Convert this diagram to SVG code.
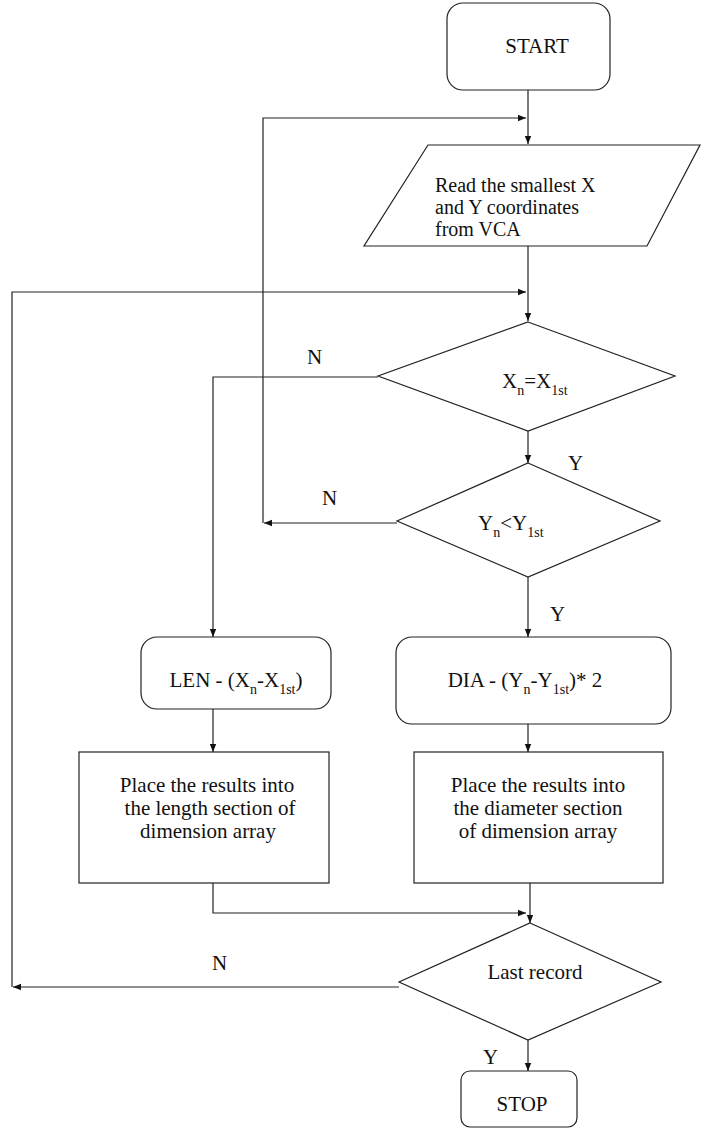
<svg xmlns="http://www.w3.org/2000/svg" width="701" height="1128" viewBox="0 0 701 1128">
<defs>
<style>
.n{fill:#fff;stroke:#222;stroke-width:1.2}
.c{fill:none;stroke:#222;stroke-width:1.2}
text{font-family:"Liberation Serif","Times New Roman",serif;font-size:21px;fill:#111}
.s{font-size:14px}
.p{font-size:20px}
</style>
<marker id="a" viewBox="0 0 10 10" refX="10" refY="5" markerWidth="8" markerHeight="8" markerUnits="userSpaceOnUse" orient="auto">
<path d="M0,1 L10,5 L0,9 z" fill="#111"/>
</marker>
</defs>
<rect width="701" height="1128" fill="#fff"/>
<g id="connectors">
<path class="c" d="M528,90 V144" marker-end="url(#a)"/>
<path class="c" d="M263,523 V118 H526" marker-end="url(#a)"/>
<path class="c" d="M528,246 V321" marker-end="url(#a)"/>
<path class="c" d="M12,987 V292 H526" marker-end="url(#a)"/>
<path class="c" d="M378,377 H213 V637" marker-end="url(#a)"/>
<path class="c" d="M528,431 V463" marker-end="url(#a)"/>
<path class="c" d="M397,523 H264" marker-end="url(#a)"/>
<path class="c" d="M528,577 V637" marker-end="url(#a)"/>
<path class="c" d="M213,709 V752" marker-end="url(#a)"/>
<path class="c" d="M528,724 V752" marker-end="url(#a)"/>
<path class="c" d="M213,883 V913 H526" marker-end="url(#a)"/>
<path class="c" d="M530,883 V923" marker-end="url(#a)"/>
<path class="c" d="M528,1040 V1071" marker-end="url(#a)"/>
<path class="c" d="M399,987 H13" marker-end="url(#a)"/>
<text x="307" y="364">N</text>
<text x="322" y="505">N</text>
<text x="568" y="470">Y</text>
<text x="550" y="621">Y</text>
<text x="212" y="970">N</text>
<text x="483" y="1064">Y</text>
</g>
<g id="start">
<rect class="n" x="447" y="3" width="163" height="87" rx="16"/>
<text x="537" y="53" text-anchor="middle">START</text>
</g>
<g id="read">
<polygon class="n" points="428,145 700,145 647,246 364,246"/>
<text class="p" x="435" y="192">Read the smallest X</text>
<text class="p" x="435" y="214">and Y coordinates</text>
<text class="p" x="435" y="236">from VCA</text>
</g>
<g id="decX">
<polygon class="n" points="528,322 675,376 528,431 378,376"/>
<text x="502" y="388">X<tspan class="s" dy="7">n</tspan><tspan dy="-7">=X</tspan><tspan class="s" dy="7">1st</tspan></text>
</g>
<g id="decY">
<polygon class="n" points="528,463 660,521 528,577 397,521"/>
<text x="478" y="530">Y<tspan class="s" dy="7">n</tspan><tspan dy="-7">&lt;Y</tspan><tspan class="s" dy="7">1st</tspan></text>
</g>
<g id="len">
<rect class="n" x="141" y="637" width="190" height="72" rx="16"/>
<text x="236" y="687" text-anchor="middle">LEN - (X<tspan class="s" dy="7">n</tspan><tspan dy="-7">-X</tspan><tspan class="s" dy="7">1st</tspan><tspan dy="-7">)</tspan></text>
</g>
<g id="dia">
<rect class="n" x="396" y="637" width="275" height="87" rx="16"/>
<text x="525" y="687" text-anchor="middle">DIA - (Y<tspan class="s" dy="7">n</tspan><tspan dy="-7">-Y</tspan><tspan class="s" dy="7">1st</tspan><tspan dy="-7">)* 2</tspan></text>
</g>
<g id="placeLen">
<rect class="n" x="79" y="752" width="250" height="131"/>
<text x="207" y="792" text-anchor="middle">Place the results into</text>
<text x="210" y="815" text-anchor="middle">the length section of</text>
<text x="208" y="838" text-anchor="middle">dimension array</text>
</g>
<g id="placeDia">
<rect class="n" x="414" y="752" width="249" height="131"/>
<text x="538" y="792" text-anchor="middle">Place the results into</text>
<text x="538" y="815" text-anchor="middle">the diameter section</text>
<text x="538" y="838" text-anchor="middle">of dimension array</text>
</g>
<g id="last">
<polygon class="n" points="530,923 661,982 528,1040 399,982"/>
<text x="535" y="979" text-anchor="middle">Last record</text>
</g>
<g id="stop">
<rect class="n" x="461" y="1071" width="116" height="56" rx="9"/>
<text x="522" y="1111" text-anchor="middle">STOP</text>
</g>
</svg>
